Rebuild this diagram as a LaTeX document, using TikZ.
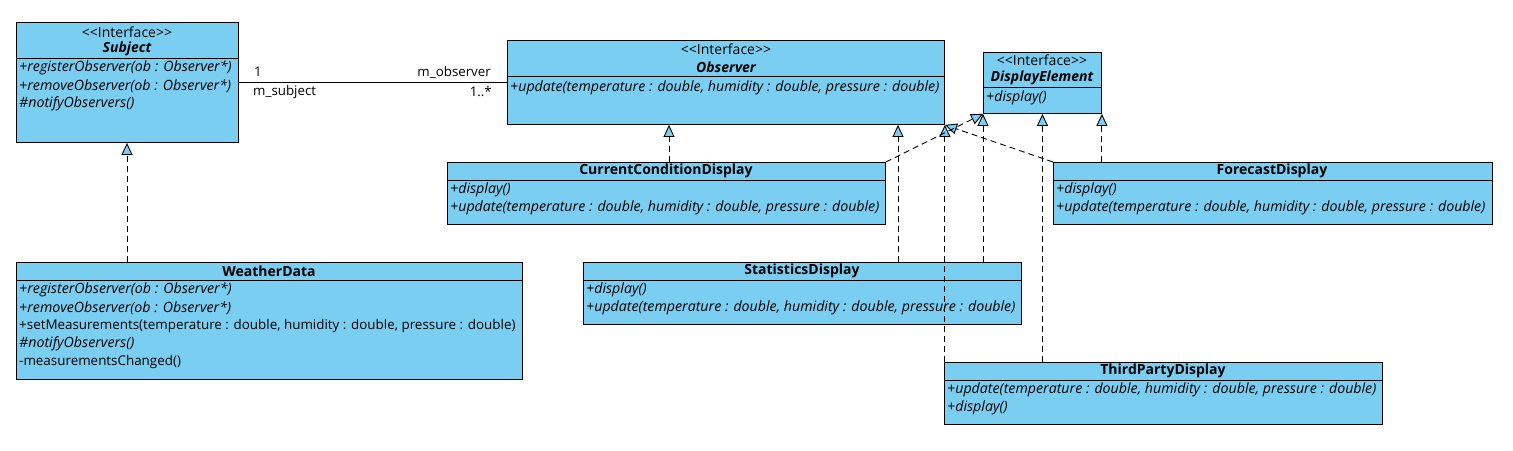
\documentclass[tikz,border=0pt]{standalone}
\usepackage{fontspec}
\setmainfont{Open Sans}
\usetikzlibrary{arrows.meta}
\definecolor{umlblue}{RGB}{122,206,242}
\begin{document}
\begin{tikzpicture}[x=1pt,y=-1pt,
  box/.style={draw, fill=umlblue, line width=0.9pt, anchor=north west, inner sep=0pt},
  divl/.style={line width=0.9pt},
  stereo/.style={font=\fontsize{14}{16}\selectfont, inner sep=0pt},
  cname/.style={font=\fontsize{14}{16}\selectfont\bfseries, inner sep=0pt},
  iname/.style={font=\fontsize{14}{16}\selectfont\bfseries\itshape, inner sep=0pt},
  meth/.style={font=\fontsize{14.2}{16}\selectfont\itshape, anchor=west, inner sep=0pt},
  methup/.style={font=\fontsize{13.4}{16}\selectfont, anchor=west, inner sep=0pt},
  lab/.style={font=\fontsize{13.3}{16}\selectfont, inner sep=0pt},
  realize/.style={line width=0.9pt, dash pattern=on 6pt off 4pt,
    -{Triangle[length=12pt, width=11pt, fill=umlblue, line width=0.9pt]}},
  assoc/.style={line width=0.9pt}
]
\useasboundingbox (0,0) rectangle (1513,450);

% ---------- Subject ----------
\node[box, minimum width=222pt, minimum height=120pt] (subj) at (16,22) {};
\draw[divl] (subj.west |- 0,58) -- (subj.east |- 0,58);
\node[stereo] (subjst) at (127,32) {<\kern0pt<Interface>\kern0pt>};
\node[iname] (subjnm) at (127,49) {Subject};
\node[meth] (subjm1) at (19,68) {+registerObserver(ob : Observer*)};
\node[meth] (subjm2) at (19,86) {+removeObserver(ob : Observer*)};
\node[meth] (subjm3) at (19,104) {\#notifyObservers()};

% ---------- Observer ----------
\node[box, minimum width=437pt, minimum height=84pt] (obs) at (507,40) {};
\draw[divl] (obs.west |- 0,76) -- (obs.east |- 0,76);
\node[stereo] (obsst) at (726,49) {<\kern0pt<Interface>\kern0pt>};
\node[iname] (obsnm) at (726,67) {Observer};
\node[meth] (obsm1) at (510,88) {+update(temperature : double, humidity : double, pressure : double)};

% ---------- DisplayElement ----------
\node[box, minimum width=118pt, minimum height=61pt] (de) at (983,52) {};
\draw[divl] (de.west |- 0,87) -- (de.east |- 0,87);
\node[stereo] (dest) at (1042,60) {<\kern0pt<Interface>\kern0pt>};
\node[iname] (denm) at (1042,78) {DisplayElement};
\node[meth] (dem1) at (986,98) {+display()};

% ---------- CurrentConditionDisplay ----------
\node[box, minimum width=438pt, minimum height=62pt] (ccd) at (447,162) {};
\draw[divl] (ccd.west |- 0,180) -- (ccd.east |- 0,180);
\node[cname] (ccdnm) at (666,171) {CurrentConditionDisplay};
\node[meth] (ccdm1) at (450,190) {+display()};
\node[meth] (ccdm2) at (450,208) {+update(temperature : double, humidity : double, pressure : double)};

% ---------- ForecastDisplay ----------
\node[box, minimum width=439pt, minimum height=62pt] (fcd) at (1053,162) {};
\draw[divl] (fcd.west |- 0,180) -- (fcd.east |- 0,180);
\node[cname] (fcdnm) at (1272,171) {ForecastDisplay};
\node[meth] (fcdm1) at (1056,190) {+display()};
\node[meth] (fcdm2) at (1056,208) {+update(temperature : double, humidity : double, pressure : double)};

% ---------- StatisticsDisplay ----------
\node[box, minimum width=438pt, minimum height=62pt] (sd) at (583,262) {};
\draw[divl] (sd.west |- 0,280) -- (sd.east |- 0,280);
\node[cname] (sdnm) at (802,271) {StatisticsDisplay};
\node[meth] (sdm1) at (586,290) {+display()};
\node[meth] (sdm2) at (586,308) {+update(temperature : double, humidity : double, pressure : double)};

% ---------- ThirdPartyDisplay ----------
\node[box, minimum width=438pt, minimum height=62pt] (tpd) at (944,362) {};
\draw[divl] (tpd.west |- 0,380) -- (tpd.east |- 0,380);
\node[cname] (tpdnm) at (1163,371) {ThirdPartyDisplay};
\node[meth] (tpdm1) at (947,390) {+update(temperature : double, humidity : double, pressure : double)};
\node[meth] (tpdm2) at (947,408) {+display()};

% ---------- WeatherData ----------
\node[box, minimum width=506pt, minimum height=117pt] (wd) at (16,262) {};
\draw[divl] (wd.west |- 0,280) -- (wd.east |- 0,280);
\node[cname] (wdnm) at (269,271) {WeatherData};
\node[meth] (wdm1) at (19,290) {+registerObserver(ob : Observer*)};
\node[meth] (wdm2) at (19,308) {+removeObserver(ob : Observer*)};
\node[methup] (wdm3) at (19,326) {+setMeasurements(temperature : double, humidity : double, pressure : double)};
\node[meth] (wdm4) at (19,344) {\#notifyObservers()};
\node[methup] (wdm5) at (19,362) {-measurementsChanged()};

% ---------- association ----------
\coordinate (arow) at (0,82);
\draw[assoc] (subj.east |- arow) -- (obs.west |- arow);
\node[lab, anchor=west] (l1) at (254,72) {1};
\node[lab, anchor=west] (lsub) at (253,92) {m\_subject};
\node[lab, anchor=east] (lobs) at (491,72) {m\_observer};
\node[lab, anchor=east] (lmany) at (492,92) {1..*};

% ---------- realizations ----------
\coordinate (k127) at (127,0);
\coordinate (k669) at (669,0);
\coordinate (k898) at (898,0);
\draw[realize] (wd.north -| k127) -- (subj.south -| k127);
\draw[realize] (ccd.north -| k669) -- (obs.south -| k669);
\draw[realize] (sd.north -| k898) -- (obs.south -| k898);
\draw[realize] (tpd.north -| obs.south east) -- (obs.south east);
\draw[realize] (fcd.north west) -- (obs.south east);
\draw[realize] (ccd.north east) -- (de.south west);
\draw[realize] (sd.north -| de.south west) -- (de.south west);
\draw[realize] (tpd.north -| de.south) -- (de.south);
\draw[realize] (fcd.north -| de.south east) -- (de.south east);
\end{tikzpicture}
\end{document}
